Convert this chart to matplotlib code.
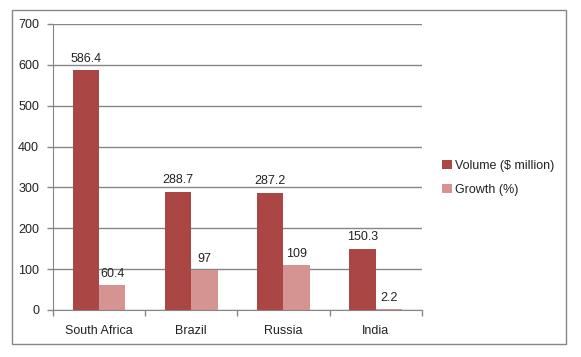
import numpy as np
import matplotlib

matplotlib.use('Agg')

import matplotlib.pyplot as plt
from matplotlib.patches import Rectangle

plt.rcParams['font.family'] = ['Liberation Sans', 'DejaVu Sans']

# data
countries = ['South Africa', 'Brazil', 'Russia', 'India']
volume = [586.4, 288.7, 287.2, 150.3]
growth = [60.4, 97, 109, 2.2]
volume_labels = ['586.4', '288.7', '287.2', '150.3']
growth_labels = ['60.4', '97', '109', '2.2']
yticks = [0, 100, 200, 300, 400, 500, 600, 700]

vol_color = '#AA4644'
gro_color = '#D59391'
grid_color = '#868686'
text_color = '#222222'
fs = 9

fig = plt.figure(figsize=(5.81, 3.57), dpi=100)

# outer chart border
fig.patches.append(Rectangle((0.0207, 0.036), 0.953, 0.936, transform=fig.transFigure,
                             fill=False, edgecolor=grid_color, linewidth=1))

ax = fig.add_axes([0.0912, 0.1317, 0.6346, 0.8011])

x = np.arange(len(countries))
w = 1 / 3.5

b1 = ax.bar(x - w / 2, volume, w, color=vol_color, label='Volume (\\$ million)')
b2 = ax.bar(x + w / 2, growth, w, color=gro_color, label='Growth (%)')

for rect, lab in zip(b1, volume_labels):
    ax.annotate(lab, (rect.get_x() + rect.get_width() / 2, rect.get_height()),
                xytext=(0, 4), textcoords='offset points', ha='center', va='bottom',
                fontsize=fs, color=text_color)
for rect, lab in zip(b2, growth_labels):
    ax.annotate(lab, (rect.get_x() + rect.get_width() / 2, rect.get_height()),
                xytext=(0, 4), textcoords='offset points', ha='center', va='bottom',
                fontsize=fs, color=text_color)

ax.set_xlim(-0.5, len(countries) - 0.5)
ax.set_ylim(0, 700)
ax.set_yticks(yticks)
ax.yaxis.grid(True, color=grid_color, linewidth=1)
ax.set_axisbelow(True)

# category labels centred, tick marks between categories
ax.set_xticks(x)
ax.set_xticklabels(countries)
ax.set_xticks(np.arange(-0.5, len(countries)), minor=True)
ax.tick_params(axis='x', which='major', length=0, pad=11, labelsize=fs, labelcolor=text_color)
ax.tick_params(axis='x', which='minor', length=4, color=grid_color, width=1)
ax.tick_params(axis='y', length=4, color=grid_color, width=1, pad=6, labelsize=fs,
               labelcolor=text_color)

for s in ['top', 'right']:
    ax.spines[s].set_visible(False)
ax.spines['left'].set_color(grid_color)
ax.spines['bottom'].set_color(grid_color)

ax.legend(loc='center left', bbox_to_anchor=(1.025, 0.462), frameon=False, fontsize=fs,
          handlelength=0.75, handleheight=0.75, handletextpad=0.3, labelspacing=1.0,
          labelcolor=text_color)

fig.savefig('out.png', dpi=100)
